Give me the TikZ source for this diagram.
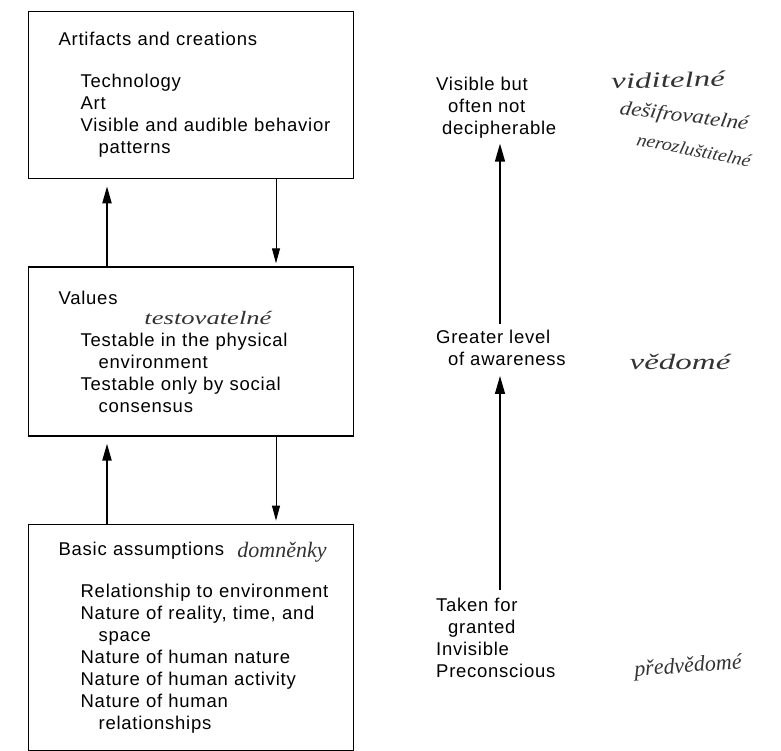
\documentclass[tikz,border=0pt]{standalone}
\usepackage{fontspec}
\setmainfont{Liberation Sans}[LetterSpace=4]
\newfontfamily\handfont{Liberation Serif}
\usetikzlibrary{positioning,arrows.meta}
\newcommand{\bodysize}{\fontsize{18.5pt}{22pt}\selectfont}

\begin{document}
\begin{tikzpicture}[x=1pt, y=-1pt, node distance=87pt]

    \tikzstyle{box} = [rectangle, draw, line width=1.3pt, text width=325pt, inner sep=0pt, align=left, font=\bodysize]
    \tikzstyle{sidetext} = [inner sep=0pt, align=left, font=\bodysize, anchor=north west]
    \tikzstyle{hand} = [font=\handfont\itshape\fontsize{22pt}{24pt}\selectfont, text=black!80, inner sep=0pt, transform shape]
    \tikzstyle{uparrow} = [line width=2pt, -{Triangle[length=17pt,width=9pt]}, shorten >=7pt]
    \tikzstyle{downarrow} = [line width=0.9pt, -{Triangle[length=15pt,width=8pt]}, shorten >=3pt]
    \tikzstyle{levelarrow} = [line width=1.4pt, -{Triangle[length=18pt,width=10pt]}]

    \useasboundingbox (0,0) rectangle (781,750);

    % the three levels
    \node[box, minimum height=167pt, anchor=north west] (artifacts) at (28,11) {\hspace*{30pt}Artifacts and creations\\[20pt]
        \hspace*{52pt}Technology\\
        \hspace*{52pt}Art\\
        \hspace*{52pt}Visible and audible behavior\\
        \hspace*{70pt}patterns};
    \node[box, minimum height=169pt, below=of artifacts] (values) {\hspace*{30pt}Values\\[20pt]
        \hspace*{52pt}Testable in the physical\\
        \hspace*{70pt}environment\\
        \hspace*{52pt}Testable only by social\\
        \hspace*{70pt}consensus};
    \node[box, minimum height=226pt, below=of values] (assumptions) {\hspace*{30pt}Basic assumptions\\[20pt]
        \hspace*{52pt}Relationship to environment\\
        \hspace*{52pt}Nature of reality, time, and\\
        \hspace*{70pt}space\\
        \hspace*{52pt}Nature of human nature\\
        \hspace*{52pt}Nature of human activity\\
        \hspace*{52pt}Nature of human\\
        \hspace*{70pt}relationships};

    \coordinate (up) at (107,0);
    \coordinate (down) at (276,0);
    \draw[uparrow] (values.north -| up) -- (artifacts.south -| up);
    \draw[downarrow] (artifacts.south -| down) -- (values.north -| down);
    \draw[uparrow] (assumptions.north -| up) -- (values.south -| up);
    \draw[downarrow] (values.south -| down) -- (assumptions.north -| down);

    % awareness scale
    \node[sidetext] (visible) at (436,77) {Visible but\\\hspace*{12pt}often not\\\hspace*{6pt}decipherable};
    \node[sidetext] (awareness) at (436,330) {Greater level\\\hspace*{12pt}of awareness};
    \node[sidetext] (granted) at (436,598) {Taken for\\\hspace*{12pt}granted\\Invisible\\Preconscious};

    \coordinate (axis) at (500,0);
    \draw[levelarrow, shorten <=8pt, shorten >=10pt] (granted.north -| axis) -- (awareness.south -| axis);
    \draw[levelarrow, shorten <=6pt, shorten >=5pt] (awareness.north -| axis) -- (visible.south -| axis);

    % handwritten notes
    \node[hand, xscale=1.5, rotate=2] (vid) at (668,80) {viditelné};
    \node[hand, xscale=1.15, rotate=-8, font=\handfont\itshape\fontsize{20pt}{22pt}\selectfont] (desif) at (684,117) {dešifrovatelné};
    \node[hand, xscale=1.1, rotate=-12, font=\handfont\itshape\fontsize{18pt}{20pt}\selectfont] (nerozl) at (694,150) {nerozluštitelné};
    \node[hand, xscale=1.5] (vedome) at (680,362) {vědomé};
    \node[hand, rotate=4] (predv) at (688,667) {předvědomé};
    \node[hand] (domn) at (282,552) {domněnky};
    \node[hand, xscale=1.4, font=\handfont\itshape\fontsize{19pt}{21pt}\selectfont] (testov) at (208,318) {testovatelné};

\end{tikzpicture}
\end{document}
